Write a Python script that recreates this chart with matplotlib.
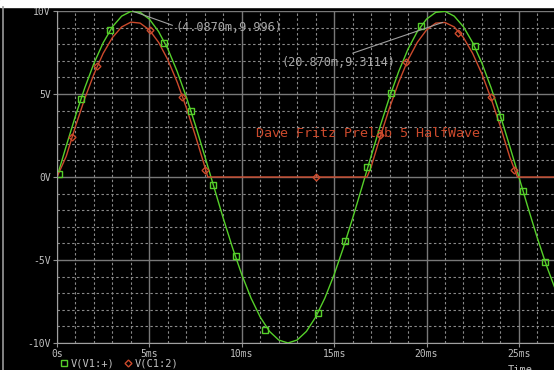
import matplotlib
matplotlib.use("Agg")
import matplotlib.pyplot as plt
from matplotlib.lines import Line2D
from matplotlib.ticker import MultipleLocator

t = [0.0, 0.5, 1.0, 1.5, 2.0, 2.5, 3.0, 3.5, 4.0, 4.5, 5.0, 5.5, 6.0, 6.5,
     7.0, 7.5, 8.0, 8.5, 9.0, 9.5, 10.0, 10.5, 11.0, 11.5, 12.0, 12.5, 13.0,
     13.5, 14.0, 14.5, 15.0, 15.5, 16.0, 16.5, 17.0, 17.5, 18.0, 18.5, 19.0,
     19.5, 20.0, 20.5, 21.0, 21.5, 22.0, 22.5, 23.0, 23.5, 24.0, 24.5, 25.0,
     25.5, 26.0, 26.5, 27.0]

v_in = [0.0, 1.87, 3.68, 5.36, 6.85, 8.09, 9.05, 9.69, 9.98, 9.92, 9.51, 8.76,
        7.71, 6.37, 4.82, 3.09, 1.25, -0.63, -2.49, -4.26, -5.88, -7.29, -8.44,
        -9.30, -9.82, -10.0, -9.82, -9.30, -8.44, -7.29, -5.88, -4.26, -2.49,
        -0.63, 1.25, 3.09, 4.82, 6.37, 7.71, 8.76, 9.51, 9.92, 9.98, 9.69, 9.05,
        8.09, 6.85, 5.36, 3.68, 1.87, 0.0, -1.87, -3.68, -5.36, -6.85]

# rectified output
t_out = [0.0, 0.5, 1.0, 1.5, 2.0, 2.5, 3.0, 3.5, 4.0, 4.5, 5.0, 5.5, 6.0, 6.5,
         7.0, 7.5, 8.0, 8.16, 16.78, 17.0, 17.5, 18.0, 18.5, 19.0, 19.5, 20.0,
         20.5, 21.0, 21.5, 22.0, 22.5, 23.0, 23.5, 24.0, 24.5, 24.92, 27.0]
v_out = [0.0, 1.25, 3.05, 4.72, 6.2, 7.45, 8.4, 9.04, 9.33, 9.27, 8.86, 8.11,
         7.06, 5.73, 4.18, 2.45, 0.62, 0.0, 0.0, 0.6, 2.44, 4.17, 5.72, 7.06,
         8.11, 8.86, 9.27, 9.31, 9.04, 8.4, 7.44, 6.2, 4.71, 3.03, 1.22, 0.0, 0.0]

# marker positions on each trace
mk_in_t = [0.1, 1.3, 2.86, 5.78, 7.24, 8.43, 9.67, 11.24, 14.1, 15.6, 16.8,
           18.1, 19.7, 22.6, 24.0, 25.2, 26.4]
mk_in_v = [0.2, 4.7, 8.85, 8.1, 3.97, -0.5, -4.76, -9.2, -8.2, -3.86, 0.6,
           5.06, 9.1, 7.9, 3.6, -0.84, -5.1]
mk_out_t = [0.8, 2.16, 5.03, 6.76, 8.0, 14.0, 17.5, 18.9, 21.7, 23.5, 24.75]
mk_out_v = [2.4, 6.7, 8.85, 4.8, 0.4, 0.0, 2.5, 6.9, 8.7, 4.8, 0.4]

cursor1 = (4.087, 9.996)
cursor2 = (20.870, 9.3114)

y_ticks = [-10, -5, 0, 5, 10]
y_labels = ["-10V", "-5V", "0V", "5V", "10V"]
x_ticks = [0, 5, 10, 15, 20, 25]
x_labels = ["0s", "5ms", "10ms", "15ms", "20ms", "25ms"]

green = "#56d02a"
red = "#cc4a2c"
txt = "#c0c0c0"
mono = "DejaVu Sans Mono"

fig = plt.figure(figsize=(5.54, 3.70), dpi=100, facecolor="black")
ax = fig.add_axes([57 / 554, 27 / 370, 1 - 57 / 554, 332 / 370])
ax.set_facecolor("black")

ax.set_xlim(0, 26.9)
ax.set_ylim(-10, 10)
ax.xaxis.set_minor_locator(MultipleLocator(1))
ax.yaxis.set_minor_locator(MultipleLocator(1))
ax.set_xticks(x_ticks)
ax.set_xticklabels(x_labels, family=mono, fontsize=7, color=txt)
ax.set_yticks(y_ticks)
ax.set_yticklabels(y_labels, family=mono, fontsize=7, color=txt)
ax.tick_params(which="major", length=3, color="#909090", pad=1.5)
ax.tick_params(which="minor", length=0)
ax.grid(which="major", color="#787878", lw=1, ls="-")
ax.grid(which="minor", color="#8a8a8a", lw=0.8, ls=(0, (2.2, 2.2)))
for s in ["top", "right"]:
    ax.spines[s].set_visible(False)
ax.spines["left"].set_color("#a0a0a0")
ax.spines["bottom"].set_color("#a0a0a0")

ax.plot(t, v_in, color=green, lw=1)
ax.plot(t_out, v_out, color=red, lw=1)
ax.plot(mk_in_t, mk_in_v, ls="none", marker="s", ms=5, mfc="none", mec=green, mew=1)
ax.plot(mk_out_t, mk_out_v, ls="none", marker="D", ms=3.5, mfc="none", mec=red, mew=1)

ax.annotate("(4.0870m,9.996)", xy=cursor1, xytext=(6.4, 9.0), color="#a8a8a8",
            family=mono, fontsize=8.6, va="center",
            arrowprops=dict(arrowstyle="-", color="#a0a0a0", lw=0.8, shrinkA=0, shrinkB=0,
                            relpos=(0.0, 0.6)))
ax.annotate("(20.870m,9.3114)", xy=cursor2, xytext=(12.15, 6.9), color="#a8a8a8",
            family=mono, fontsize=8.6, va="center",
            arrowprops=dict(arrowstyle="-", color="#a0a0a0", lw=0.8, shrinkA=0, shrinkB=0,
                            relpos=(0.47, 0.75)))
ax.text(10.75, 2.65, "Dave Fritz Prelab 5 HalfWave", color=red, family=mono,
        fontsize=9.6, va="center")

handles = [Line2D([], [], ls="none", marker="s", ms=5, mfc="none", mec=green),
           Line2D([], [], ls="none", marker="D", ms=3.5, mfc="none", mec=red)]
leg = fig.legend(handles, ["V(V1:+)", "V(C1:2)"], loc="center left",
                 bbox_to_anchor=(56 / 554, 1 - 364 / 370), ncol=2, frameon=False,
                 handlelength=0.5, handletextpad=0.4, columnspacing=1.1,
                 borderpad=0, prop=dict(family=mono, size=7.5))
for tx in leg.get_texts():
    tx.set_color(txt)

fig.text(508 / 554, 5 / 370, "Time", color=txt, family=mono, fontsize=7.5, va="top")

# white strip at the top and grey edge on the left
fig.patches.append(plt.Rectangle((0, 1 - 7 / 370), 1, 7 / 370, transform=fig.transFigure,
                                 color="white", zorder=0))
fig.add_artist(Line2D([3.5 / 554, 3.5 / 554], [0, 1 - 7 / 370], transform=fig.transFigure,
                      color="#9a9a9a", lw=1.2))

fig.savefig("out.png", dpi=100, facecolor="black")
